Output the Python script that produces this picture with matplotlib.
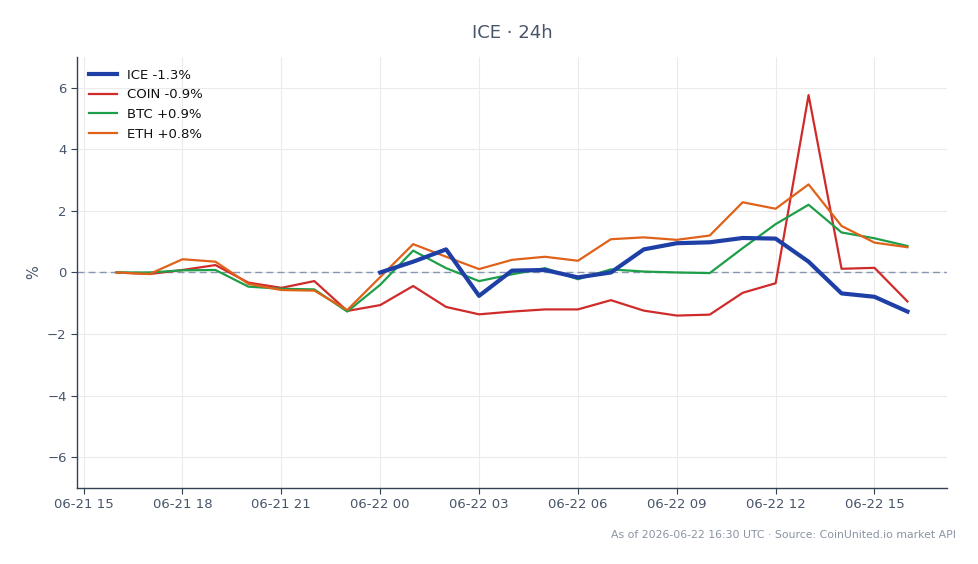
import matplotlib
matplotlib.use("Agg")
import matplotlib.pyplot as plt
import matplotlib.dates as mdates
import pandas as pd

times = pd.date_range("2026-06-21 16:00", "2026-06-22 16:00", freq="h")
ice_times = pd.date_range("2026-06-22 00:00", "2026-06-22 16:00", freq="h")

coin = [0.0, -0.05, 0.08, 0.24, -0.33, -0.5, -0.28, -1.25, -1.06, -0.44, -1.12, -1.36, -1.27,
        -1.2, -1.2, -0.9, -1.24, -1.4, -1.37, -0.66, -0.35, 5.76, 0.12, 0.15, -0.94]
btc = [0.0, 0.0, 0.07, 0.08, -0.46, -0.53, -0.55, -1.27, -0.4, 0.71, 0.14, -0.28, -0.06,
       0.14, -0.22, 0.1, 0.03, 0.0, -0.02, 0.79, 1.57, 2.2, 1.3, 1.11, 0.86]
eth = [0.0, -0.05, 0.43, 0.35, -0.37, -0.57, -0.59, -1.22, -0.15, 0.92, 0.51, 0.11, 0.41,
       0.51, 0.38, 1.08, 1.14, 1.06, 1.2, 2.28, 2.07, 2.86, 1.51, 0.97, 0.82]
ice = [0.0, 0.35, 0.75, -0.76, 0.06, 0.08, -0.16, 0.0, 0.75, 0.95, 0.98, 1.12, 1.1,
       0.35, -0.68, -0.79, -1.27]

labels = ["ICE -1.3%", "COIN -0.9%", "BTC +0.9%", "ETH +0.8%"]
colors = ["#1e40a6", "#d02b2b", "#1f9e4a", "#e0621a"]

text_c = "#475569"
fig = plt.figure(figsize=(9.79, 5.64), dpi=100)
ax = fig.add_axes([0.0787, 0.1348, 0.8886, 0.7642])

ax.plot(ice_times, ice, color=colors[0], lw=3.0, label=labels[0], zorder=5)
ax.plot(times, coin, color=colors[1], lw=1.6, label=labels[1], zorder=4)
ax.plot(times, btc, color=colors[2], lw=1.6, label=labels[2], zorder=4)
ax.plot(times, eth, color=colors[3], lw=1.6, label=labels[3], zorder=4)
ax.axhline(0, color="#8797b2", lw=1.0, ls=(0, (5, 3)), zorder=2)

ax.set_ylim(-7, 7)
ax.set_yticks([-6, -4, -2, 0, 2, 4, 6])
ax.set_yticklabels(["\u22126", "\u22124", "\u22122", "0", "2", "4", "6"])
ax.xaxis.set_major_locator(mdates.HourLocator(byhour=[0, 3, 6, 9, 12, 15, 18, 21]))
ax.xaxis.set_major_formatter(mdates.DateFormatter("%m-%d %H"))

ax.grid(True, color="#ebebeb", lw=0.8)
ax.set_axisbelow(True)
for s in ["top", "right"]:
    ax.spines[s].set_visible(False)
for s in ["left", "bottom"]:
    ax.spines[s].set_color("#334155")
    ax.spines[s].set_linewidth(1.0)
ax.tick_params(colors=text_c, labelsize=9.5, length=4, direction="out")
ax.tick_params(axis="both", color="#334155")
ax.set_ylabel("%", color=text_c, fontsize=10.5)

leg = ax.legend(loc="upper left", frameon=False, fontsize=9.5, handlelength=2.1,
                borderaxespad=0.5, labelspacing=0.5)
for t in leg.get_texts():
    t.set_color("#111111")

fig.text(0.5230, 0.942, "ICE \u00b7 24h", ha="center", va="center", color=text_c, fontsize=13)
fig.text(0.976, 0.052, "As of 2026-06-22 16:30 UTC \u00b7 Source: CoinUnited.io market API",
         ha="right", va="center", color="#8a94a3", fontsize=7.8)

fig.savefig("out.png", dpi=100)
